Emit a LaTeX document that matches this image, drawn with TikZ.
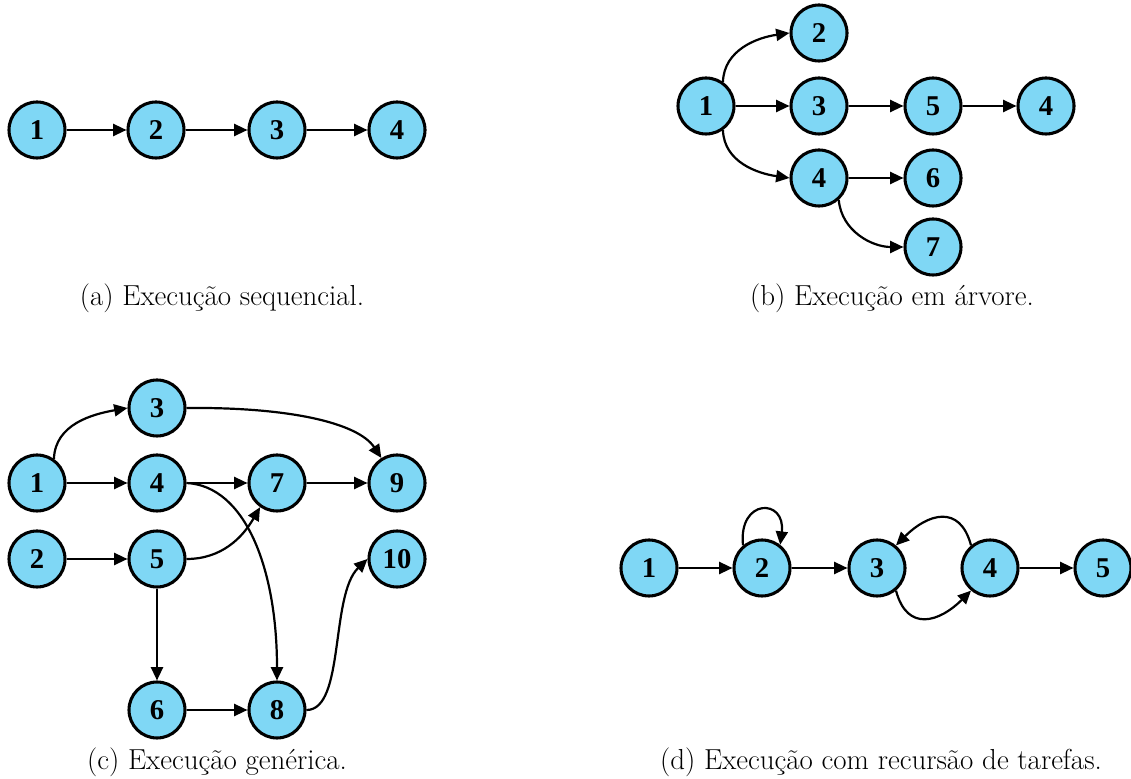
\documentclass[tikz,border=0pt]{standalone}
\usepackage{fontspec}
\newfontfamily\labelfont{Liberation Serif}
\usetikzlibrary{arrows.meta}
\definecolor{taskblue}{HTML}{7FD7F5}
\tikzset{
  task/.style={circle, draw=black, fill=taskblue, line width=2.3pt,
    minimum size=42pt, inner sep=0pt,
    font=\labelfont\bfseries\fontsize{21.5}{23}\selectfont},
  arr/.style={line width=1.65pt, -{Triangle[length=10pt,width=9pt]}},
  caption/.style={font=\fontsize{21.7}{25}\selectfont}
}
\begin{document}
\begin{tikzpicture}[x=0.75pt,y=0.75pt]
\useasboundingbox (0,0) rectangle (1131,778);

% (a) sequential execution
\node[task] (a1) at (37,648) {1};
\node[task] (a2) at (156,648) {2};
\node[task] (a3) at (277,648) {3};
\node[task] (a4) at (397,648) {4};
\draw[arr] (a1) -- (a2);
\draw[arr] (a2) -- (a3);
\draw[arr] (a3) -- (a4);
\node[caption] (capa) at (222,480) {(a) Execução sequencial.};

% (b) tree execution
\node[task] (b1) at (706,672) {1};
\node[task] (b2) at (819,745) {2};
\node[task] (b3) at (819,672) {3};
\node[task] (b5) at (933,672) {5};
\node[task] (b4r) at (1046,672) {4};
\node[task] (b4) at (819,600) {4};
\node[task] (b6) at (933,600) {6};
\node[task] (b7) at (933,531) {7};
\draw[arr] (b1.55) to[out=88,in=188] (b2.west);
\draw[arr] (b1) -- (b3);
\draw[arr] (b3) -- (b5);
\draw[arr] (b5) -- (b4r);
\draw[arr] (b1.-55) to[out=-88,in=172] (b4.west);
\draw[arr] (b4) -- (b6);
\draw[arr] (b4.-48) to[out=-85,in=180] (b7.west);
\node[caption] (capb) at (892,480) {(b) Execução em árvore.};

% (c) generic execution
\node[task] (c3) at (157,370) {3};
\node[task] (c1) at (37,295) {1};
\node[task] (c4) at (157,295) {4};
\node[task] (c7) at (277,295) {7};
\node[task] (c9) at (397,295) {9};
\node[task] (c2) at (37,219) {2};
\node[task] (c5) at (157,219) {5};
\node[task] (c10) at (397,219) {10};
\node[task] (c6) at (157,68) {6};
\node[task] (c8) at (277,68) {8};
\draw[arr] (c1.55) to[out=88,in=190] (c3.west);
\draw[arr] (c3.east) .. controls (290,371) and (358,355) .. (c9.122);
\draw[arr] (c1) -- (c4);
\draw[arr] (c4) -- (c7);
\draw[arr] (c7) -- (c9);
\draw[arr] (c4.east) .. controls (245,292) and (277,210) .. (c8.north);
\draw[arr] (c2) -- (c5);
\draw[arr] (c5.east) to[out=0,in=-120] (c7.-125);
\draw[arr] (c5) -- (c6);
\draw[arr] (c6) -- (c8);
\draw[arr] (c8.east) .. controls (345,68) and (330,183) .. (c10.west);
\node[caption] (capc) at (217,16) {(c) Execução genérica.};

% (d) execution with task recursion
\node[task] (d1) at (649,210) {1};
\node[task] (d2) at (762,210) {2};
\node[task] (d3) at (877,210) {3};
\node[task] (d4) at (990,210) {4};
\node[task] (d5) at (1103,210) {5};
\draw[arr] (d1) -- (d2);
\draw[arr] (d2.130) .. controls (738,280) and (786,280) .. (d2.52);
\draw[arr] (d2) -- (d3);
\draw[arr] (d4.130) to[out=105,in=45,looseness=1.5] (d3.50);
\draw[arr] (d3.-50) to[out=-75,in=-135,looseness=1.5] (d4.-130);
\draw[arr] (d4) -- (d5);
\node[caption] (capd) at (881,16) {(d) Execução com recursão de tarefas.};
\end{tikzpicture}
\end{document}
